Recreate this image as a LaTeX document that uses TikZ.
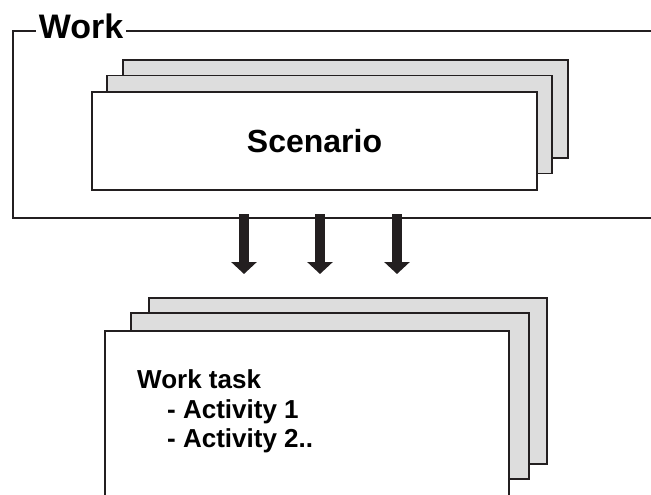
\documentclass[tikz,border=0pt]{standalone}
\usepackage{fontspec}
\setmainfont{Liberation Sans}
\usetikzlibrary{arrows.meta,calc}
\definecolor{inkline}{HTML}{231F20}
\definecolor{sheetgray}{HTML}{DDDDDD}

\begin{document}
\begin{tikzpicture}[x=1pt,y=-1pt,
            frame/.style={draw=inkline, line width=1.2pt},
            sheet/.style={draw=inkline, line width=1.6pt, fill=white, inner sep=0pt},
            backsheet/.style={sheet, fill=sheetgray},
            scensize/.style={minimum width=445pt, minimum height=98pt},
            tasksize/.style={minimum width=398pt, minimum height=166pt},
            title/.style={fill=white, inner xsep=3pt, inner ysep=1pt, font=\fontsize{34}{40}\selectfont\bfseries},
            flow/.style={draw=inkline, line width=10pt, -{Triangle[length=12pt,width=25pt]}}]
            \useasboundingbox (0,0) rectangle (651,495);
            \draw[frame] (651,31) -| (13,218) -- (651,218);
            \node[title, anchor=base] at (81,39) (worktitle) {Work};
            \node[backsheet, scensize] at (345.5,109) (scen3) {};
            \node[backsheet, scensize] at (329.5,124.5) (scen2) {};
            \node[sheet, scensize, font=\fontsize{32}{36}\selectfont\bfseries] at (314.5,141) (scen1) {Scenario};
            \coordinate (up1) at (244,214);
            \coordinate (up2) at (320,214);
            \coordinate (up3) at (397,214);
            \coordinate (dn1) at (244,274);
            \coordinate (dn2) at (320,274);
            \coordinate (dn3) at (397,274);
            \draw[flow] (up1) -- (dn1);
            \draw[flow] (up2) -- (dn2);
            \draw[flow] (up3) -- (dn3);
            \node[backsheet, tasksize] at (348,381) (task3) {};
            \node[backsheet, tasksize] at (330,396) (task2) {};
            \node[sheet, tasksize, minimum width=404pt] at (307,414) (task1) {};
            \node[anchor=north west, inner sep=0pt, align=left, font=\fontsize{26}{29.5}\selectfont\bfseries] at (137,369.5) (tasktext)
            {Work task\\\hspace*{30pt}- Activity 1\\\hspace*{30pt}- Activity 2..};
        \end{tikzpicture}
\end{document}
